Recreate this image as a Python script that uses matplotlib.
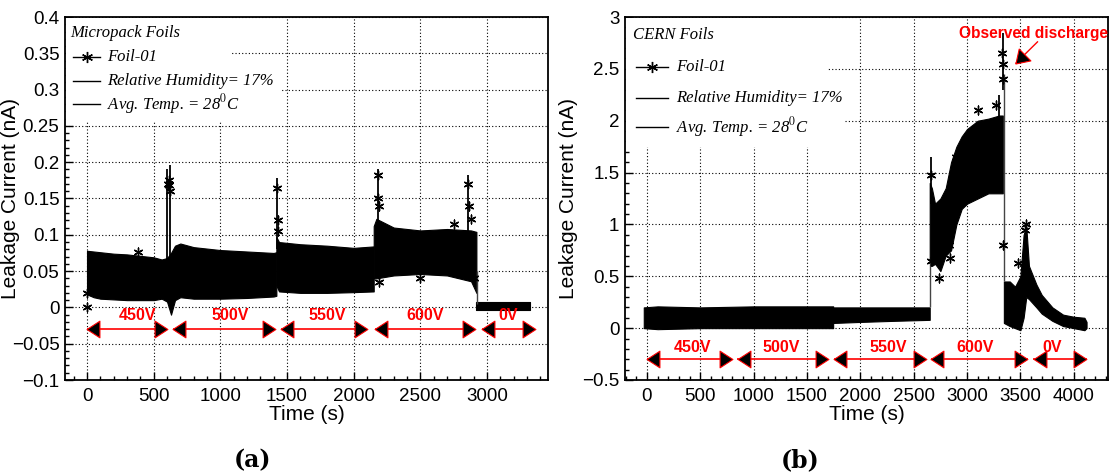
import matplotlib
matplotlib.use("Agg")
import matplotlib.pyplot as plt
from matplotlib.patches import Rectangle
from matplotlib.lines import Line2D
from matplotlib.markers import MarkerStyle
from matplotlib.path import Path
from matplotlib.transforms import Affine2D, offset_copy
import numpy as np

plt.rcParams['font.family'] = ['Liberation Sans', 'DejaVu Sans']
plt.rcParams['mathtext.fontset'] = 'stix'

# ---------------- Panel (a): Micropack foils ----------------
a_t  = [0, 50, 100, 200, 300, 400, 500, 560, 600, 630, 660, 700, 800, 1000, 1200, 1400, 1420]
a_hi = [0.078, 0.077, 0.076, 0.074, 0.073, 0.071, 0.069, 0.066, 0.068, 0.075, 0.085, 0.088, 0.083, 0.079, 0.077, 0.075, 0.076]
a_lo = [0.018, 0.014, 0.012, 0.011, 0.010, 0.010, 0.010, 0.012, 0.008, -0.010, 0.010, 0.014, 0.012, 0.012, 0.013, 0.015, 0.016]
a2_t  = [1420, 1440, 1600, 1800, 2000, 2150]
a2_hi = [0.097, 0.090, 0.087, 0.085, 0.082, 0.084]
a2_lo = [0.030, 0.022, 0.020, 0.020, 0.021, 0.022]
a3_t  = [2150, 2170, 2300, 2500, 2700, 2880, 2920]
a3_hi = [0.112, 0.122, 0.110, 0.106, 0.108, 0.106, 0.104]
a3_lo = [0.040, 0.040, 0.044, 0.046, 0.044, 0.036, 0.020]
a4_t  = [2920, 3100, 3320]
a4_hi = [0.008, 0.008, 0.008]
a4_lo = [-0.004, -0.004, -0.004]
a_spk_t  = [602, 622, 1425, 2180, 2860]
a_spk_lo = [0.060, 0.060, 0.080, 0.100, 0.100]
a_spk_hi = [0.190, 0.196, 0.178, 0.190, 0.182]
a_con_t  = [2922]
a_con_lo = [0.004]
a_con_hi = [0.050]
a_mk_t = [0, 0, 605, 612, 620, 617, 1425, 1430, 1435, 2180, 2182, 2190, 2860, 2868, 2876, 2750, 2190, 2500, 2900, 380]
a_mk_v = [0.0, 0.020, 0.170, 0.176, 0.160, 0.168, 0.165, 0.120, 0.105, 0.182, 0.150, 0.140, 0.170, 0.140, 0.122, 0.115, 0.035, 0.040, 0.040, 0.076]
a_lab = ['450V', '500V', '550V', '600V', '0V']
a_lab_x = [375, 1073, 1800, 2535, 3160]
a_arr_x0 = [0, 645, 1455, 2160, 2960]
a_arr_x1 = [600, 1410, 2100, 2910, 3360]

# ---------------- Panel (b): CERN foils ----------------
b_t  = [-30, 100, 500, 1000, 1500, 1745]
b_hi = [0.20, 0.21, 0.20, 0.21, 0.21, 0.21]
b_lo = [0.00, -0.01, 0.00, 0.00, 0.00, 0.00]
b2_t  = [1745, 2000, 2300, 2650]
b2_hi = [0.20, 0.20, 0.20, 0.20]
b2_lo = [0.05, 0.06, 0.07, 0.08]
b3_t  = [2650, 2670, 2700, 2750, 2800, 2850, 2900, 2950, 3000, 3100, 3200, 3300, 3335]
b3_hi = [1.40, 1.35, 1.20, 1.25, 1.35, 1.60, 1.75, 1.85, 1.92, 2.00, 2.02, 2.05, 2.05]
b3_lo = [0.65, 0.60, 0.62, 0.55, 0.70, 0.75, 1.00, 1.15, 1.20, 1.25, 1.30, 1.30, 1.30]
b4_t  = [3345, 3400, 3450, 3500, 3530, 3555, 3580, 3650, 3700, 3800, 3900, 4000, 4100, 4120]
b4_hi = [0.45, 0.45, 0.40, 0.50, 0.90, 0.98, 0.60, 0.42, 0.32, 0.20, 0.13, 0.11, 0.10, 0.06]
b4_lo = [0.05, 0.02, 0.00, -0.02, 0.10, 0.30, 0.28, 0.20, 0.14, 0.07, 0.02, 0.00, -0.02, 0.00]
b_spk_t  = [2662, 3300, 3335]
b_spk_lo = [1.20, 2.00, 2.30]
b_spk_hi = [1.65, 2.25, 2.85]
b_con_t  = [2650, 3342]
b_con_lo = [0.20, 0.45]
b_con_hi = [0.65, 2.45]
b_mk_t = [2660, 2660, 2740, 2840, 2830, 2900, 3100, 3270, 3330, 3335, 3340, 3340, 3480, 3550, 3545]
b_mk_v = [1.48, 0.65, 0.48, 0.68, 0.80, 1.65, 2.10, 2.15, 2.65, 2.55, 2.40, 0.80, 0.63, 1.00, 0.95]
b_lab = ['450V', '500V', '550V', '600V', '0V']
b_lab_x = [430, 1255, 2260, 3075, 3800]
b_arr_x0 = [0, 845, 1750, 2660, 3620]
b_arr_x1 = [797, 1700, 2615, 3570, 4120]

W, H = 1115, 473
fig = plt.figure(figsize=(W / 100, H / 100), dpi=100)

STAR = (6, 2, 0)
# arrow-head marker (pointing left), tip at x = -0.77 in path units
HEAD_PATH = Path([(-0.77, 0.0), (0.77, 1.0), (0.77, -1.0), (-0.77, 0.0)],
                 [Path.MOVETO, Path.LINETO, Path.LINETO, Path.CLOSEPOLY])
HEAD_MS = 12.0                      # points (full height)
HEAD_OFF = 0.77 * 0.5 * HEAD_MS     # points from tip to marker centre


def px_axes(ax_box, px, py):
    l, t, r, b = ax_box
    return (px - l) / (r - l), 1 - (py - t) / (b - t)


def setup(ax, xlim, ylim, xmaj, xmin, ymaj, ymin, ylab_x):
    ax.set_xlim(*xlim)
    ax.set_ylim(*ylim)
    ax.xaxis.set_major_locator(matplotlib.ticker.MultipleLocator(xmaj))
    ax.xaxis.set_minor_locator(matplotlib.ticker.MultipleLocator(xmin))
    ax.yaxis.set_major_locator(matplotlib.ticker.MultipleLocator(ymaj))
    ax.yaxis.set_minor_locator(matplotlib.ticker.MultipleLocator(ymin))
    ax.tick_params(which='both', direction='in', top=False, right=False, labelsize=13.5)
    ax.tick_params(which='major', length=6, width=1)
    ax.tick_params(which='minor', length=3, width=1)
    ax.tick_params(axis='x', pad=6)
    ax.tick_params(axis='y', pad=4)
    ax.grid(True, which='major', linestyle=(0, (1, 2)), color='black', linewidth=0.8)
    ax.set_axisbelow(True)
    for s in ax.spines.values():
        s.set_linewidth(1.3)
    ax.set_xlabel('Time (s)', fontsize=15, labelpad=0)
    ax.set_ylabel('Leakage Current (nA)', fontsize=15)
    ax.yaxis.set_label_coords(ylab_x, 0.5)
    ax.yaxis.set_major_formatter(matplotlib.ticker.FuncFormatter(
        lambda v, p: ('%g' % v).replace('-', '\u2212')))


def band(ax, t, lo, hi):
    ax.fill_between(t, lo, hi, color='black', linewidth=0.8, zorder=3)


def arrows(ax, x0s, x1s, y, labs, labx, laby):
    tr_l = offset_copy(ax.transData, fig=fig, x=HEAD_OFF, y=0, units='points')
    tr_r = offset_copy(ax.transData, fig=fig, x=-HEAD_OFF, y=0, units='points')
    left = MarkerStyle(HEAD_PATH)
    right = MarkerStyle(HEAD_PATH, transform=Affine2D().rotate_deg(180))
    for x0, x1 in zip(x0s, x1s):
        ax.plot([x0, x1], [y, y], color='red', lw=1.2, zorder=6, solid_capstyle='butt')
        ax.plot([x0], [y], marker=left, markersize=HEAD_MS, mfc='black', mec='red',
                mew=0.8, transform=tr_l, zorder=7, ls='none')
        ax.plot([x1], [y], marker=right, markersize=HEAD_MS, mfc='black', mec='red',
                mew=0.8, transform=tr_r, zorder=7, ls='none')
    for lab, x in zip(labs, labx):
        ax.text(x, laby, lab, color='red', fontsize=11.5, fontweight='bold',
                ha='center', va='center', zorder=8)


def legend(ax, box, title, rows_px, boxes):
    for (x0, y0, x1, y1) in boxes:
        ax0, ay1 = px_axes(box, x0, y0)
        ax1, ay0 = px_axes(box, x1, y1)
        ax.add_patch(Rectangle((ax0, ay0), ax1 - ax0, ay1 - ay0, transform=ax.transAxes,
                               facecolor='white', edgecolor='none', zorder=1))
    tx, ty = px_axes(box, title[1], title[2])
    ax.text(tx, ty, title[0], transform=ax.transAxes, fontsize=12, style='italic',
            family=['Liberation Serif'], va='center', ha='left', zorder=8)
    for i, (lx0, lx1, txx, yy, txt) in enumerate(rows_px):
        a0, ay = px_axes(box, lx0, yy)
        a1, _ = px_axes(box, lx1, yy)
        ax.add_line(Line2D([a0, a1], [ay, ay], transform=ax.transAxes, color='black',
                           lw=1.0, zorder=8))
        if i == 0:
            ax.add_line(Line2D([(a0 + a1) / 2], [ay], transform=ax.transAxes, color='black',
                               marker=STAR, markersize=8, markeredgewidth=1.0, zorder=8))
        t0, _ = px_axes(box, txx, yy)
        ax.text(t0, ay, txt, transform=ax.transAxes, fontsize=12, style='italic',
                family=['Liberation Serif'], va='center', ha='left', zorder=8)


# ---- Panel (a)
boxA = (65, 17, 548, 380)
axA = fig.add_axes([boxA[0] / W, 1 - boxA[3] / H, (boxA[2] - boxA[0]) / W, (boxA[3] - boxA[1]) / H])
setup(axA, (-165, 3457), (-0.1, 0.4), 500, 100, 0.05, 0.01, (20 - 65) / 483)
band(axA, a_t, a_lo, a_hi)
band(axA, a2_t, a2_lo, a2_hi)
band(axA, a3_t, a3_lo, a3_hi)
band(axA, a4_t, a4_lo, a4_hi)
axA.vlines(a_spk_t, a_spk_lo, a_spk_hi, color='black', lw=1.3, zorder=3)
axA.vlines(a_con_t, a_con_lo, a_con_hi, color='#444444', lw=1.0, zorder=3)
axA.scatter(a_mk_t, a_mk_v, marker=STAR, s=40, color='black', linewidths=1.0, zorder=4)
arrows(axA, a_arr_x0, a_arr_x1, -0.03, a_lab, a_lab_x, -0.011)
legend(axA, boxA, ('Micropack Foils', 70, 33),
       [(73, 100, 107, 57, 'Foil-01'),
        (73, 100, 107, 81, 'Relative Humidity= 17%'),
        (73, 100, 107, 104, r'Avg. Temp. = 28$^{0}$C')],
       [(66, 18, 230, 122), (66, 75, 282, 122)])

# ---- Panel (b)
boxB = (625, 17, 1108, 380)
axB = fig.add_axes([boxB[0] / W, 1 - boxB[3] / H, (boxB[2] - boxB[0]) / W, (boxB[3] - boxB[1]) / H])
setup(axB, (-206, 4321), (-0.5, 3.0), 500, 100, 0.5, 0.1, (578 - 625) / 483)
band(axB, b_t, b_lo, b_hi)
band(axB, b2_t, b2_lo, b2_hi)
band(axB, b3_t, b3_lo, b3_hi)
band(axB, b4_t, b4_lo, b4_hi)
axB.vlines(b_spk_t, b_spk_lo, b_spk_hi, color='black', lw=1.3, zorder=3)
axB.vlines(b_con_t, b_con_lo, b_con_hi, color='#444444', lw=1.0, zorder=3)
axB.scatter(b_mk_t, b_mk_v, marker=STAR, s=40, color='black', linewidths=1.0, zorder=4)
arrows(axB, b_arr_x0, b_arr_x1, -0.30, b_lab, b_lab_x, -0.19)
legend(axB, boxB, ('CERN Foils', 633, 35),
       [(636, 668, 676, 67, 'Foil-01'),
        (636, 668, 676, 98, 'Relative Humidity= 17%'),
        (636, 668, 676, 127, r'Avg. Temp. = 28$^{0}$C')],
       [(626, 18, 827, 147), (626, 85, 845, 147)])

# "Observed discharge" annotation
disc_text_xy = (3620, 2.845)
disc_tail = (3660, 2.76)
disc_tip = (3458, 2.555)
axB.text(disc_text_xy[0], disc_text_xy[1], 'Observed discharge', color='red', fontsize=11.2,
         fontweight='bold', ha='center', va='center', zorder=9)
axB.plot([disc_tail[0], disc_tip[0]], [disc_tail[1], disc_tip[1]], color='red', lw=1.0, zorder=9)
p_tail = axB.transData.transform(disc_tail)
p_tip = axB.transData.transform(disc_tip)
dvec = p_tip - p_tail
ang = np.degrees(np.arctan2(dvec[1], dvec[0]))
uvec = -dvec / np.hypot(*dvec)
tr_h = offset_copy(axB.transData, fig=fig, x=HEAD_OFF * uvec[0], y=HEAD_OFF * uvec[1], units='points')
axB.plot([disc_tip[0]], [disc_tip[1]], marker=MarkerStyle(HEAD_PATH, transform=Affine2D().rotate_deg(ang - 180)),
         markersize=HEAD_MS, mfc='black', mec='red', mew=0.8, transform=tr_h, zorder=9, ls='none')

fig.text(253 / W, 1 - 460 / H, '(a)', fontsize=17, fontweight='bold', family=['DejaVu Serif'],
         ha='center', va='center')
fig.text(800 / W, 1 - 460 / H, '(b)', fontsize=17, fontweight='bold', family=['DejaVu Serif'],
         ha='center', va='center')

fig.savefig('out.png', dpi=100)
